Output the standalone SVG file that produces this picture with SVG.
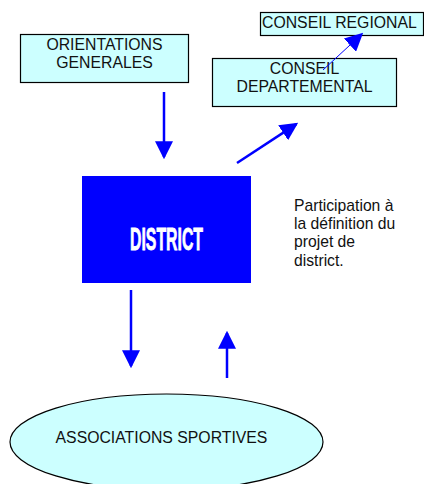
<svg xmlns="http://www.w3.org/2000/svg" width="424" height="484" viewBox="0 0 424 484">
<defs>
<style>
.box{fill:#CCFFFF;stroke:#000;stroke-width:1.2}
.t{font-family:"Liberation Sans",Arial,sans-serif;font-size:15.8px;fill:#111}
.n{font-family:"Liberation Sans",Arial,sans-serif;font-size:15.7px;fill:#111}
.c{stroke:#0000FF;fill:none}
</style>
<marker id="ah" markerUnits="userSpaceOnUse" markerWidth="18" markerHeight="18" viewBox="0 0 16 16" refX="14" refY="8" orient="auto">
<path d="M0,0 L16,8 L0,16 Z" fill="#0000FF"/>
</marker>
</defs>
<rect width="424" height="484" fill="#fff"/>
<g id="orientations">
<rect class="box" x="20.5" y="34.5" width="168" height="48"/>
<text class="t" x="104.5" y="50" text-anchor="middle">ORIENTATIONS</text>
<text class="t" x="104.5" y="68" text-anchor="middle">GENERALES</text>
</g>
<g id="conseil-regional">
<rect class="box" x="260.5" y="12.5" width="163" height="23"/>
<text class="t" x="262" y="28">CONSEIL REGIONAL</text>
</g>
<g id="conseil-departemental">
<rect class="box" x="212.5" y="58.5" width="184" height="48"/>
<text class="t" x="304.5" y="74" text-anchor="middle">CONSEIL</text>
<text class="t" x="304.5" y="92" text-anchor="middle">DEPARTEMENTAL</text>
</g>
<g id="district">
<rect x="82" y="176" width="169" height="107" fill="#0000FF"/>
<text x="166.5" y="250" text-anchor="middle" font-family="'Liberation Sans',Arial,sans-serif" font-weight="bold" font-size="31" fill="#fff" stroke="#fff" stroke-width="0.8" textLength="73" lengthAdjust="spacingAndGlyphs">DISTRICT</text>
</g>
<g id="note">
<text class="n" x="294" y="211">Participation à</text>
<text class="n" x="294" y="229">la définition du</text>
<text class="n" x="294" y="247">projet de</text>
<text class="n" x="294" y="266">district.</text>
</g>
<g id="associations">
<ellipse cx="166.5" cy="442" rx="156.5" ry="48" fill="#CCFFFF" stroke="#000" stroke-width="1.2"/>
<text class="t" x="161.5" y="443" text-anchor="middle">ASSOCIATIONS SPORTIVES</text>
</g>
<g id="connectors">
<line class="c" stroke-width="2.5" x1="164" y1="92" x2="164" y2="157" marker-end="url(#ah)"/>
<line class="c" stroke-width="2.5" x1="237" y1="163" x2="296.3" y2="124.1" marker-end="url(#ah)"/>
<line class="c" stroke-width="1" x1="323" y1="70" x2="361.5" y2="34.4" marker-end="url(#ah)"/>
<line class="c" stroke-width="2.5" x1="131" y1="290" x2="131" y2="366" marker-end="url(#ah)"/>
<line class="c" stroke-width="2.5" x1="227" y1="378" x2="227" y2="333" marker-end="url(#ah)"/>
</g>
</svg>
